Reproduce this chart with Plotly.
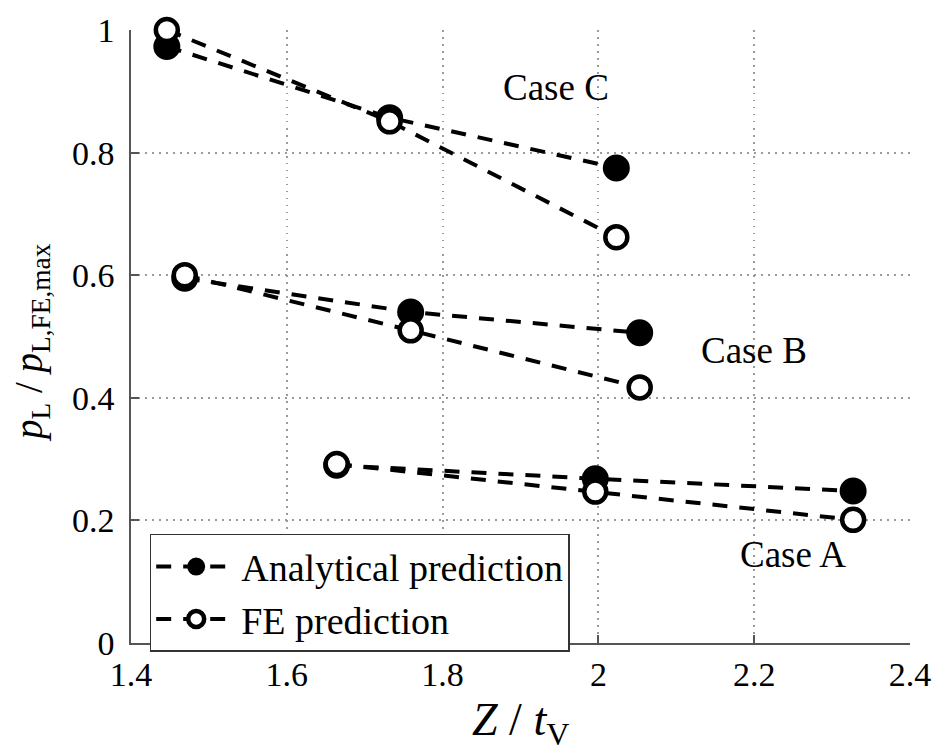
import plotly.graph_objects as go

# Normalised pressure vs. normalised depth for three cases
case_a_x = [1.664, 1.996, 2.327]
case_a_analytical = [0.290, 0.268, 0.248]
case_a_fe = [0.292, 0.247, 0.201]

case_b_x = [1.469, 1.759, 2.053]
case_b_analytical = [0.595, 0.540, 0.506]
case_b_fe = [0.600, 0.510, 0.417]

case_c_x = [1.446, 1.732, 2.023]
case_c_analytical = [0.973, 0.857, 0.775]
case_c_fe = [1.000, 0.851, 0.662]

x_ticks = [1.4, 1.6, 1.8, 2.0, 2.2, 2.4]
x_tick_text = ["1.4", "1.6", "1.8", "2", "2.2", "2.4"]
y_ticks = [0, 0.2, 0.4, 0.6, 0.8, 1.0]
y_tick_text = ["0", "0.2", "0.4", "0.6", "0.8", "1"]

case_labels = ["Case A", "Case B", "Case C"]
case_label_x = [2.25, 2.2, 1.945]
case_label_y = [0.145, 0.477, 0.907]

FONT = "Liberation Serif, Times New Roman, serif"
DASH = "15px,12px"

fig = go.Figure()

cases = [
    (case_a_x, case_a_analytical, case_a_fe),
    (case_b_x, case_b_analytical, case_b_fe),
    (case_c_x, case_c_analytical, case_c_fe),
]

for i, (xs, ana, fe) in enumerate(cases):
    fig.add_trace(go.Scatter(
        x=xs, y=ana, mode="lines+markers",
        name="Analytical prediction", legendgroup="ana", showlegend=(i == 0),
        line=dict(color="black", width=4, dash=DASH),
        marker=dict(size=25, color="black", line=dict(color="black", width=2)),
        cliponaxis=False,
    ))
    fig.add_trace(go.Scatter(
        x=xs, y=fe, mode="lines+markers",
        name="FE prediction", legendgroup="fe", showlegend=(i == 0),
        line=dict(color="black", width=4, dash=DASH),
        marker=dict(size=22, color="white", line=dict(color="black", width=4.5)),
        cliponaxis=False,
    ))

for txt, lx, ly in zip(case_labels, case_label_x, case_label_y):
    fig.add_annotation(x=lx, y=ly, text=txt, showarrow=False,
                       font=dict(family=FONT, size=37, color="black"),
                       xanchor="center", yanchor="middle")

axis_common = dict(
    showgrid=True, gridcolor="#9a9a9a", griddash="1.5px,5.5px", gridwidth=1.5,
    showline=True, linecolor="#555555", linewidth=1.5,
    ticks="inside", ticklen=8, tickcolor="#555555", tickwidth=1.5,
    zeroline=False, mirror=False,
    tickfont=dict(family=FONT, size=34, color="black"),
)

fig.update_xaxes(range=[1.4, 2.4], tickvals=x_ticks, ticktext=x_tick_text,
                 **axis_common)
fig.update_yaxes(range=[0, 1], tickvals=y_ticks, ticktext=y_tick_text,
                 ticklabelstandoff=8, **axis_common)

fig.add_annotation(xref="paper", yref="paper", x=0.5, y=-0.08,
                   text="<i>Z</i> / <i>t</i><sub>V</sub>", showarrow=False,
                   font=dict(family=FONT, size=46, color="black"),
                   xanchor="center", yanchor="top")
fig.add_annotation(xref="paper", yref="paper", x=-0.128, y=0.49,
                   text="<i>p</i><sub>L</sub> / <i>p</i><sub>L,FE,max</sub>",
                   showarrow=False, textangle=-90,
                   font=dict(family=FONT, size=39, color="black"),
                   xanchor="center", yanchor="middle")

fig.update_layout(
    width=943, height=750,
    margin=dict(l=131, r=27, t=26, b=107),
    paper_bgcolor="white", plot_bgcolor="white",
    font=dict(family=FONT, color="black"),
    showlegend=True,
    legend=dict(
        x=0.024, y=0.178, xanchor="left", yanchor="top",
        bgcolor="white", bordercolor="#333333", borderwidth=1.5,
        font=dict(family=FONT, size=38, color="black"),
        itemsizing="trace", itemwidth=80, tracegroupgap=0,
    ),
)

fig.write_html("out.html")
